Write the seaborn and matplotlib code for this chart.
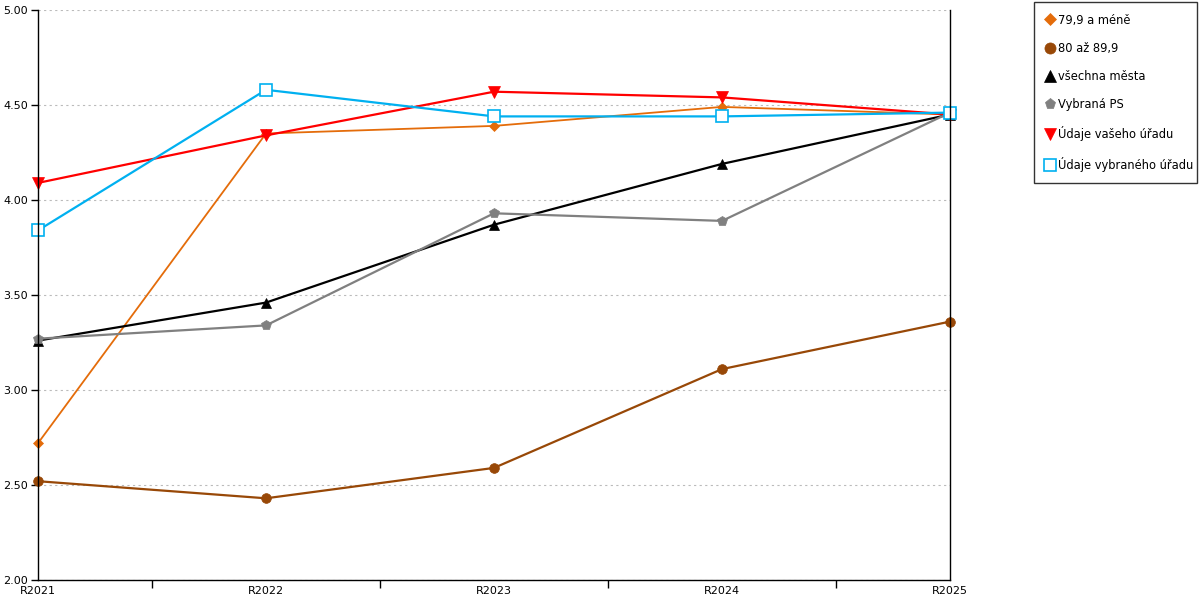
import matplotlib
matplotlib.use('Agg')
import matplotlib.pyplot as plt
from matplotlib.lines import Line2D
from matplotlib.ticker import MultipleLocator, FixedLocator
import seaborn as sns
import pandas as pd

# data
roky = ['R2021', 'R2022', 'R2023', 'R2024', 'R2025']
mene_79 = [2.72, 4.35, 4.39, 4.49, 4.45]
od_80_do_89 = [2.52, 2.43, 2.59, 3.11, 3.36]
vsechna_mesta = [3.26, 3.46, 3.87, 4.19, 4.45]
vybrana_ps = [3.27, 3.34, 3.93, 3.89, 4.46]
vas_urad = [4.09, 4.34, 4.57, 4.54, 4.45]
vybrany_urad = [3.84, 4.58, 4.44, 4.44, 4.46]

nazvy = ['79,9 a méně', '80 až 89,9', 'všechna města', 'Vybraná PS',
         'Údaje vašeho úřadu', 'Údaje vybraného úřadu']
hodnoty = [mene_79, od_80_do_89, vsechna_mesta, vybrana_ps, vas_urad, vybrany_urad]

# styl car: barva, znacka, velikost, vypln, tloustka
styly = [
    ('#E46C0A', 'D', 5, None, 1.3),
    ('#984807', 'o', 7, None, 1.6),
    ('#000000', '^', 7, None, 1.6),
    ('#808080', 'p', 7, None, 1.6),
    ('#FF0000', 'v', 8, None, 1.6),
    ('#00B0F0', 's', 8, 'white', 1.6),
]

sns.set_style('white')
plt.rcParams['font.family'] = ['DejaVu Sans']
plt.rcParams['font.size'] = 8
plt.rcParams['text.color'] = 'black'

fig = plt.figure(figsize=(12, 6), dpi=100)
ax = fig.add_axes([38 / 1200, 1 - 580 / 600, (950 - 38) / 1200, 570 / 600])

pozice = list(range(len(roky)))
handles = []
for nazev, y, (barva, znacka, ms, vypln, lw) in zip(nazvy, hodnoty, styly):
    df = pd.DataFrame({'x': pozice, 'y': y})
    sns.lineplot(data=df, x='x', y='y', ax=ax, color=barva, lw=lw,
                 marker=znacka, markersize=ms, markeredgecolor=barva,
                 markerfacecolor=vypln if vypln else barva,
                 markeredgewidth=1.2 if vypln else 0.5, clip_on=False)
    handles.append(Line2D([], [], ls='none', marker=znacka, markersize=ms + 1,
                          color=barva, markeredgecolor=barva,
                          markerfacecolor=vypln if vypln else barva,
                          markeredgewidth=1.2 if vypln else 0.5, label=nazev))

ax.set_xlim(0, len(roky) - 1)
ax.set_ylim(2.0, 5.0)
ax.set_xticks(pozice)
ax.set_xticklabels(roky)
ax.xaxis.set_minor_locator(FixedLocator([p + 0.5 for p in pozice[:-1]]))
ax.tick_params(axis='x', which='both', bottom=True, labelcolor='black')
ax.tick_params(axis='x', which='major', length=0, pad=4, labelsize=8)
ax.tick_params(axis='x', which='minor', length=6, width=1, color='black', direction='out')
ax.yaxis.set_major_locator(MultipleLocator(0.5))
ax.yaxis.set_major_formatter(matplotlib.ticker.FormatStrFormatter('%.2f'))
ax.tick_params(axis='y', which='major', left=True, length=5, width=1, color='black',
               direction='out', labelsize=8, pad=2, labelcolor='black')
ax.set_xlabel('')
ax.set_ylabel('')

ax.grid(axis='y', color='#BBBBBB', linestyle=(0, (2, 3)), lw=0.8)
ax.grid(axis='x', visible=False)
for s in ['left', 'bottom', 'right']:
    ax.spines[s].set_visible(True)
    ax.spines[s].set_color('black')
    ax.spines[s].set_linewidth(1)
ax.spines['top'].set_visible(False)

leg = fig.legend(handles=handles, loc='upper left',
                 bbox_to_anchor=(1034 / 1200, 1 - 2 / 600 - 0.01, 163 / 1200, 0.01),
                 mode='expand', frameon=True, fancybox=False, edgecolor='black',
                 fontsize=8.3, labelspacing=1.32, handlelength=0.8, handletextpad=0.3,
                 borderpad=1.0, borderaxespad=0)
leg.get_frame().set_linewidth(1)
for t in leg.get_texts():
    t.set_color('black')

fig.savefig('out.png', dpi=100, facecolor='white')
